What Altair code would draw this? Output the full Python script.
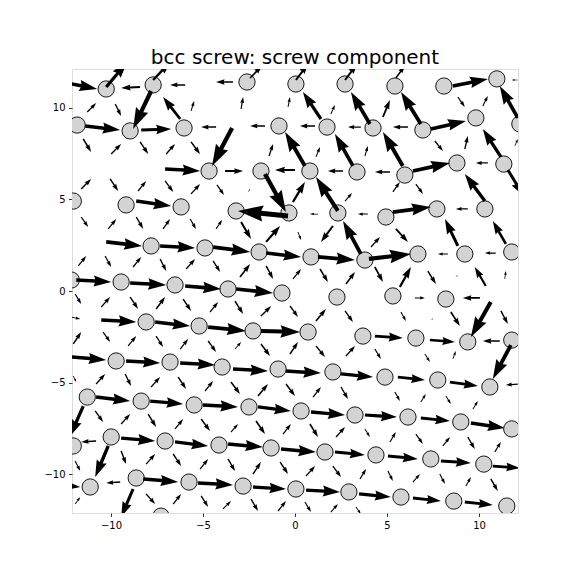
import math
import altair as alt
import pandas as pd

# ---------------- atoms (x, y) ----------------
atom_x = [
    -10.26, -7.71, -2.61, 0.05, 2.72, 5.43, 8.09, 10.97,
    -11.84, -8.96, -6.03, -0.87, 1.74, 4.24, 6.95, 9.83, 12.22,
    -4.67, -1.85, 0.81, 3.37, 5.97, 8.80, 11.35,
    -12.05, -9.18, -6.19, -3.20, -0.33, 2.33, 4.94, 7.71, 10.32,
    -7.82, -4.89, -1.95, 0.87, 3.80, 6.68, 9.23, 11.78,
    -12.16, -9.45, -6.52, -3.64, -0.71, 2.28, 5.32, 8.20,
    -8.09, -5.21, -2.28, 0.71, 3.69, 6.57, 9.39, 11.78,
    -9.72, -6.79, -3.96, -0.92, 2.06, 4.89, 7.76, 10.59,
    -11.29, -8.36, -5.48, -2.50, 0.33, 3.26, 6.14, 9.01, 11.78,
    -12.05, -9.99, -7.06, -4.13, -1.30, 1.63, 4.40, 7.38, 10.26,
    -11.13, -8.63, -5.76, -2.82, 0.05, 2.93, 5.76, 8.63, 11.51,
    -7.28,
]
atom_y = [
    11.03, 11.25, 11.41, 11.30, 11.30, 11.19, 11.19, 11.58,
    9.06, 8.74, 8.90, 9.01, 8.95, 8.90, 8.79, 9.45, 9.12,
    6.55, 6.55, 6.55, 6.50, 6.33, 6.99, 6.93,
    4.91, 4.70, 4.59, 4.37, 4.26, 4.26, 4.04, 4.48, 4.48,
    2.46, 2.35, 2.13, 1.86, 1.69, 2.02, 2.02, 2.13,
    0.60, 0.49, 0.33, 0.11, -0.11, -0.33, -0.27, -0.44,
    -1.69, -1.91, -2.18, -2.24, -2.46, -2.57, -2.78, -2.68,
    -3.82, -3.88, -4.15, -4.26, -4.42, -4.70, -4.86, -5.24,
    -5.79, -6.01, -6.22, -6.33, -6.55, -6.77, -6.88, -7.15, -7.53,
    -8.46, -7.97, -8.19, -8.41, -8.57, -8.79, -8.95, -9.17, -9.45,
    -10.70, -10.21, -10.43, -10.65, -10.81, -10.97, -11.25, -11.47, -11.74,
    -12.29,
]

# ---------------- arrows: (tail x, tail y, tip x, tip y) ----------------
arrows_nw = [
    (-10.26, 11.14, -9.12, 12.50), (-7.71, 11.52, -6.79, 12.50),
    (-12.65, 11.41, -10.75, 11.03), (-8.42, 11.14, -9.45, 11.08),
    (-5.97, 11.25, -6.79, 11.25), (-3.37, 11.41, -4.29, 11.41),
    (-7.82, 10.92, -8.80, 8.85), (-6.24, 9.39, -7.17, 10.59),
    (-11.29, 9.77, -10.81, 10.26), (-9.77, 10.21, -9.45, 9.56),
    (-5.65, 9.83, -5.48, 10.37), (-11.40, 9.01, -9.50, 8.79),
    (-8.36, 8.79, -6.73, 8.85), (-4.29, 8.95, -5.10, 8.95),
    (-11.51, 8.30, -11.08, 7.59), (-9.99, 7.48, -9.45, 8.03),
    (-8.42, 8.14, -7.98, 7.48), (-7.00, 7.48, -6.52, 8.03),
    (-5.65, 8.14, -5.16, 7.48), (-3.42, 8.90, -4.51, 6.83),
    (-7.06, 6.66, -5.16, 6.55), (-11.62, 5.57, -11.08, 6.12),
    (-10.05, 6.12, -9.61, 5.46), (-8.53, 5.46, -8.09, 6.01),
    (-7.06, 6.01, -6.62, 5.41), (-5.65, 5.30, -5.16, 5.84),
    (-4.24, 5.79, -3.86, 5.24), (-8.63, 4.91, -6.73, 4.64),
]
arrows_n = [
    (-2.44, 11.63, -1.79, 12.29), (0.05, 11.52, 0.71, 12.39),
    (2.72, 11.52, 3.37, 12.39), (-2.93, 9.94, -2.82, 10.59),
    (-0.38, 10.05, -0.27, 10.59), (1.95, 9.66, 2.17, 10.16),
    (1.41, 9.39, 0.43, 10.87), (4.07, 9.12, 3.04, 10.87),
    (-1.63, 9.01, -2.44, 9.01), (1.09, 9.01, 0.27, 9.01),
    (3.58, 8.95, 2.88, 8.95), (-1.41, 7.37, -1.19, 8.03),
    (0.54, 6.83, -0.54, 8.68), (1.14, 7.32, 1.36, 7.86),
    (3.15, 6.83, 2.17, 8.57), (3.80, 7.37, 3.96, 7.92),
    (-3.80, 6.55, -2.82, 6.55), (0.00, 6.61, -1.09, 6.61),
    (2.61, 6.55, 1.79, 6.55), (-2.55, 5.41, -2.44, 5.57),
    (-1.63, 6.39, -0.49, 4.31), (-0.11, 4.86, 0.54, 5.95),
    (2.33, 4.37, 1.14, 6.22), (-0.38, 4.10, -3.10, 4.37),
    (1.25, 4.20, 0.81, 4.20), (3.96, 4.20, 3.42, 4.20),
    (2.72, 4.91, 3.10, 5.35),
]
arrows_ne = [
    (5.48, 11.63, 5.97, 12.29), (8.58, 11.19, 10.48, 11.58),
    (12.11, 11.52, 11.78, 11.52), (6.84, 9.12, 5.76, 10.87),
    (12.11, 9.45, 11.13, 11.19), (8.85, 10.59, 9.23, 10.05),
    (10.21, 10.10, 10.48, 10.65), (4.78, 9.50, 5.16, 10.43),
    (6.14, 8.95, 5.32, 8.95), (7.38, 8.85, 9.29, 9.28),
    (5.86, 6.83, 4.78, 8.68), (7.60, 8.19, 8.04, 7.64),
    (9.23, 7.75, 9.39, 8.46), (11.19, 7.32, 10.21, 8.85),
    (11.95, 7.92, 12.11, 8.30), (5.16, 6.50, 4.34, 6.50),
    (6.41, 6.55, 8.42, 6.99), (10.48, 6.99, 9.83, 6.99),
    (11.57, 6.61, 12.43, 5.19), (5.32, 5.41, 5.70, 5.95),
    (6.57, 5.84, 6.95, 5.30), (5.32, 4.31, 7.38, 4.59),
    (9.39, 4.48, 8.74, 4.48), (10.32, 4.91, 9.23, 6.39),
]
arrows_w = [
    (-11.62, 4.04, -11.24, 3.49), (-10.15, 3.39, -9.72, 3.93),
    (-8.63, 4.04, -8.25, 3.39), (-7.17, 3.39, -6.79, 3.93),
    (-5.70, 3.93, -5.38, 3.39), (-4.29, 3.39, -3.96, 3.88),
    (-10.26, 2.68, -8.31, 2.46), (-7.33, 2.46, -5.43, 2.35),
    (-4.45, 2.40, -2.44, 2.13), (-11.78, 1.37, -11.35, 1.91),
    (-10.32, 1.91, -9.99, 1.31), (-8.80, 1.31, -8.36, 1.86),
    (-7.33, 1.75, -7.00, 1.09), (-5.92, 1.20, -5.43, 1.75),
    (-4.45, 1.64, -4.07, 1.04), (-11.89, 0.60, -9.99, 0.49),
    (-8.96, 0.44, -7.00, 0.33), (-5.97, 0.27, -4.02, 0.11),
    (-11.95, -0.16, -11.62, -0.71), (-10.53, -0.87, -10.05, -0.33),
    (-8.96, -0.33, -8.53, -0.98), (-7.55, -0.98, -7.06, -0.33),
    (-6.08, -0.44, -5.65, -1.09), (-4.62, -1.15, -4.18, -0.60),
    (-12.16, -1.42, -11.67, -1.53), (-10.53, -1.58, -8.63, -1.69),
    (-7.60, -1.69, -5.70, -1.91), (-4.72, -1.97, -2.66, -2.18),
    (-12.05, -2.89, -11.62, -2.24), (-10.43, -2.24, -10.05, -2.78),
    (-9.07, -3.00, -8.63, -2.46), (-7.55, -2.46, -7.17, -3.06),
    (-6.24, -3.17, -5.81, -2.62), (-4.72, -2.73, -4.29, -3.33),
    (-12.16, -3.60, -10.26, -3.77), (-9.18, -3.82, -7.33, -3.93),
    (-6.24, -3.93, -4.34, -4.04),
]
arrows_c = [
    (-2.93, 3.77, -2.39, 2.84), (-1.57, 2.68, -0.81, 3.55),
    (0.16, 3.22, 0.33, 2.78), (2.06, 3.55, 1.41, 2.68),
    (3.58, 2.02, 2.61, 3.82), (-1.57, 2.07, 0.33, 1.86),
    (1.25, 1.86, 3.26, 1.69), (-2.99, 0.76, -2.44, 1.47),
    (-1.57, 1.37, -1.19, 0.66), (-0.11, 0.66, 0.33, 1.20),
    (1.36, 1.20, 1.79, 0.49), (2.77, 0.38, 3.26, 1.04),
    (-3.20, 0.11, -1.19, -0.11), (-3.26, -0.55, -2.82, -1.26),
    (-1.85, -1.37, -1.30, -0.82), (-0.27, -0.82, 0.16, -1.42),
    (1.14, -1.64, 1.68, -0.98), (2.72, -1.09, 3.15, -1.69),
    (-1.85, -2.18, 0.27, -2.24), (-3.26, -3.17, -2.93, -2.78),
    (-1.85, -2.89, -1.36, -3.55), (-0.27, -3.44, 0.16, -2.78),
    (1.14, -3.00, 1.63, -3.60), (2.77, -3.55, 3.26, -3.00),
]
arrows_e = [
    (5.48, 3.39, 6.14, 2.68), (4.13, 2.40, 4.62, 2.95),
    (8.85, 2.46, 8.15, 3.93), (11.46, 2.57, 10.75, 3.82),
    (4.02, 1.75, 6.30, 2.02), (8.31, 2.02, 7.76, 2.02),
    (10.91, 2.07, 10.32, 2.07), (5.70, 0.22, 6.30, 1.31),
    (7.22, 1.09, 7.66, 0.38), (8.74, 0.76, 8.80, 0.82),
    (10.37, 0.27, 9.77, 1.31), (11.40, 0.66, 11.46, 1.09),
    (4.34, 1.31, 4.78, 0.49), (6.52, -0.38, 7.06, -0.38),
    (10.05, -0.38, 9.12, -0.38), (5.76, -1.15, 6.03, -1.64),
    (7.38, -1.53, 7.44, -1.53), (8.47, -1.15, 8.96, -1.91),
    (10.64, -0.60, 9.56, -2.51), (11.19, -1.09, 11.57, -1.80),
    (4.34, -2.46, 5.86, -2.57), (7.33, -2.68, 8.69, -2.78),
    (11.13, -2.73, 10.21, -2.73), (11.73, -2.95, 10.75, -4.80),
    (4.34, -3.17, 4.67, -3.71), (7.06, -3.44, 7.33, -3.88),
    (8.58, -3.71, 8.74, -3.28),
]
arrows_sw = [
    (-12.05, -4.64, -11.89, -4.97), (-10.81, -5.08, -10.32, -4.53),
    (-9.23, -4.53, -8.91, -5.19), (-7.82, -5.24, -7.33, -4.70),
    (-6.35, -4.70, -5.92, -5.35), (-4.89, -5.46, -4.45, -4.91),
    (-10.81, -5.79, -8.96, -6.01), (-7.87, -6.01, -6.08, -6.17),
    (-5.00, -6.22, -3.10, -6.33), (-11.51, -6.28, -12.22, -7.92),
    (-10.86, -6.55, -10.43, -7.15), (-9.45, -7.26, -8.96, -6.72),
    (-7.98, -6.72, -7.55, -7.43), (-6.52, -7.53, -6.08, -6.99),
    (-5.10, -6.99, -4.62, -7.64), (-10.81, -8.19, -11.62, -8.24),
    (-9.45, -8.03, -7.60, -8.19), (-6.52, -8.24, -4.72, -8.46),
    (-10.15, -8.46, -10.86, -10.16), (-11.95, -9.28, -11.67, -9.83),
    (-9.45, -8.74, -9.18, -9.45), (-8.09, -9.45, -7.60, -8.90),
    (-6.62, -8.90, -6.19, -9.56), (-5.16, -9.72, -4.72, -9.17),
    (-9.50, -10.43, -10.26, -10.48), (-8.25, -10.26, -6.35, -10.43),
    (-5.27, -10.48, -3.37, -10.59), (-12.76, -10.59, -11.67, -10.70),
    (-8.80, -10.81, -9.45, -12.34), (-11.95, -11.63, -11.67, -11.25),
    (-8.09, -11.08, -7.60, -11.63), (-6.62, -11.63, -6.19, -11.08),
    (-5.10, -11.19, -4.72, -11.79),
]
arrows_s = [
    (-3.37, -4.26, -1.47, -4.37), (-0.49, -4.37, 1.41, -4.48),
    (2.50, -4.53, 4.24, -4.70), (-3.48, -4.97, -2.99, -5.62),
    (-2.01, -5.73, -1.47, -5.08), (-0.49, -5.08, 0.00, -5.73),
    (0.98, -5.79, 1.41, -5.24), (2.50, -5.24, 2.88, -5.90),
    (-2.01, -6.33, -0.22, -6.55), (0.87, -6.61, 2.72, -6.77),
    (3.80, -6.77, 5.54, -6.88), (-3.48, -7.70, -3.10, -7.26),
    (-2.12, -7.10, -1.63, -7.81), (-0.65, -7.81, -0.22, -7.26),
    (0.81, -7.26, 1.25, -7.97), (2.23, -7.97, 2.72, -7.43),
    (3.80, -7.53, 4.07, -7.97), (-3.64, -8.35, -1.74, -8.52),
    (-0.76, -8.63, 1.14, -8.79), (2.17, -8.79, 3.80, -8.95),
    (-3.64, -9.17, -3.26, -9.83), (-2.28, -9.99, -1.85, -9.34),
    (-0.81, -9.34, -0.38, -9.99), (0.60, -10.10, 1.09, -9.56),
    (2.06, -9.56, 2.50, -10.16), (3.53, -10.26, 3.86, -9.72),
    (-2.28, -10.70, -0.49, -10.81), (0.60, -10.87, 2.44, -10.97),
    (3.48, -11.08, 5.21, -11.25), (-3.91, -11.90, -3.48, -11.47),
    (-2.39, -11.36, -2.01, -12.01), (-0.92, -12.01, -0.49, -11.47),
    (0.54, -11.52, 0.87, -12.07), (1.95, -12.07, 2.33, -11.63),
    (3.31, -11.79, 3.58, -12.18),
]
arrows_se = [
    (5.59, -4.70, 7.06, -4.86), (8.42, -4.97, 9.94, -5.19),
    (12.11, -5.08, 11.46, -5.13), (5.43, -5.51, 5.70, -6.01),
    (6.84, -6.06, 7.11, -5.62), (8.20, -5.73, 8.47, -6.17),
    (9.67, -6.44, 9.94, -6.01), (6.84, -6.93, 8.42, -7.10),
    (9.56, -7.21, 11.40, -7.48), (5.16, -8.24, 5.48, -7.70),
    (6.57, -7.81, 6.95, -8.35), (8.04, -8.46, 8.42, -7.97),
    (9.39, -7.97, 9.77, -8.63), (10.86, -8.79, 11.19, -8.24),
    (5.05, -9.01, 6.68, -9.17), (7.93, -9.28, 9.56, -9.39),
    (10.75, -9.56, 12.22, -9.66), (5.05, -9.83, 5.32, -10.37),
    (6.41, -10.43, 6.79, -9.99), (7.87, -9.99, 8.15, -10.54),
    (9.29, -10.65, 9.56, -10.16), (10.64, -10.26, 11.02, -10.92),
    (6.41, -11.30, 7.93, -11.47), (9.23, -11.52, 10.75, -11.68),
]

x_ticks = [-10, -5, 0, 5, 10]
y_ticks = [-10, -5, 0, 5, 10]
title_text = "bcc screw: screw component"

# ---------------- geometry (every arrow is the same shape, scaled by its length) ----------------
X_DOM = [-12.12, 12.12]
Y_DOM = [-12.12, 12.12]
W, H = 446, 444
SX = W / (X_DOM[1] - X_DOM[0])
SY = H / (Y_DOM[1] - Y_DOM[0])

# arrow outline with the tail at (0,0) and the tip at (10,0)
ARROW_PATH = "M0,-0.5L5.4,-0.5L5,-1.6L10,0L5,1.6L5.4,0.5L0,0.5Z"

all_arrows = arrows_nw + arrows_n + arrows_ne + arrows_w + arrows_c + arrows_e + arrows_sw + arrows_s + arrows_se
rows = []
for (x0, y0, x1, y1) in all_arrows:
    dxp = (x1 - x0) * SX
    dyp = (y1 - y0) * SY
    L = math.hypot(dxp, dyp)
    ang = math.degrees(math.atan2(-dyp, dxp)) % 360
    rows.append(dict(x=x0, y=y0, a=ang, s=max((L / 5.0) ** 2, 0.3)))

atoms_df = pd.DataFrame({"x": atom_x, "y": atom_y})
arrow_df = pd.DataFrame(rows)

xs = alt.Scale(domain=X_DOM, nice=False, zero=False)
ys = alt.Scale(domain=Y_DOM, nice=False, zero=False)
axis_common = dict(
    grid=False, domain=False, tickSize=3.5, tickWidth=0.8, tickColor="black",
    labelFont="DejaVu Sans", labelFontSize=10, labelColor="black", labelPadding=3.5,
    labelExpr="replace(datum.label, '-', '\u2212')", title=None,
)
X = alt.X("x:Q", scale=xs, axis=alt.Axis(values=x_ticks, **axis_common))
Y = alt.Y("y:Q", scale=ys, axis=alt.Axis(values=y_ticks, **axis_common))

atoms = alt.Chart(atoms_df).mark_point(
    shape="circle", filled=True, fill="#d3d3d3", stroke="black", strokeWidth=0.9,
    size=265, opacity=1, clip=True,
).encode(x=X, y=Y)

arrow_layer = alt.Chart(arrow_df).mark_point(
    shape=ARROW_PATH, filled=True, color="black", opacity=1, strokeWidth=0, clip=True,
).encode(
    x=X, y=Y,
    angle=alt.Angle("a:Q", scale=None),
    size=alt.Size("s:Q", scale=None, legend=None),
)

chart = alt.layer(atoms, arrow_layer).properties(
    width=W, height=H,
    title=alt.TitleParams(
        text=title_text, fontSize=20, font="DejaVu Sans", fontWeight="normal",
        color="black", anchor="middle", baseline="alphabetic", offset=-15,
    ),
    autosize=alt.AutoSizeParams(type="none"),
    padding={"left": 64, "top": 61, "right": 50, "bottom": 55},
).configure_view(stroke="black", strokeWidth=1).configure(background="white")

chart.save("out.html", embed_options={"renderer": "svg", "actions": False})
